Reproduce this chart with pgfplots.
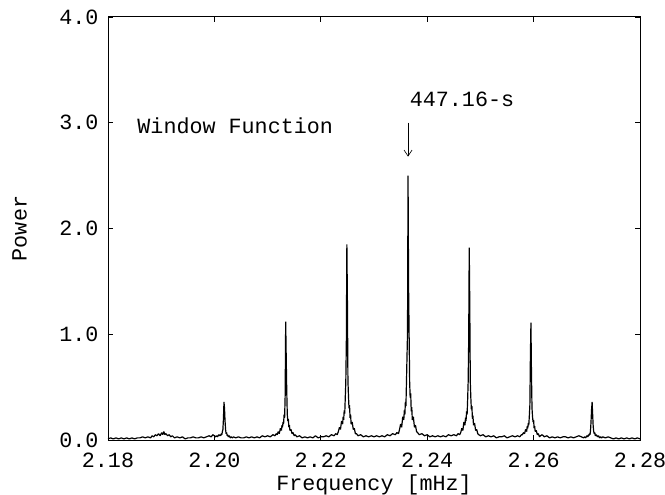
\documentclass[border=0pt]{standalone}
\usepackage{fontspec}
\setmainfont{Liberation Mono}
\usepackage{pgfplots}
\pgfplotsset{compat=1.18}
\usetikzlibrary{arrows.meta}
\begin{document}
\begin{tikzpicture}
\path[use as bounding box] (-108bp,-55bp) rectangle (557bp,440bp);
\begin{axis}[
  scale only axis, width=532bp, height=423bp,
  xmin=2.18, xmax=2.28, ymin=0, ymax=4.0,
  xtick={2.18,2.20,...,2.28}, ytick={0,1,2,3,4},
  tick align=inside, major tick length=5bp,
  axis line style={line width=1pt}, every tick/.style={black, line width=0.8pt},
  font=\fontsize{21.8}{22}\selectfont,
  /pgf/number format/assume math mode=true,
  xticklabel style={/pgf/number format/.cd, fixed, fixed zerofill, precision=2, /tikz/.cd, yshift=-9bp},
  yticklabel style={/pgf/number format/.cd, fixed, fixed zerofill, precision=1, /tikz/.cd, xshift=-6bp},
  scaled x ticks=false,
  xlabel={Frequency [mHz]}, ylabel={Power},
  xlabel style={at={(axis description cs:0.5,-0.105)}, anchor=center},
  ylabel style={at={(axis description cs:-0.166,0.5)}, anchor=center},
  clip=true,
]
\addplot[black, line width=1.2pt, sharp plot, line join=miter, miter limit=1] coordinates {
(2.1800,0.01)(2.1805,0.02)(2.1810,0.01)(2.1815,0.02)(2.1820,0.01)(2.1825,0.02)(2.1830,0.01)(2.1835,0.02)(2.1840,0.01)(2.1845,0.02)
(2.1850,0.01)(2.1855,0.02)(2.1860,0.02)(2.1865,0.03)(2.1870,0.02)(2.1875,0.03)(2.1880,0.02)(2.1883,0.04)(2.1886,0.03)(2.1889,0.05)
(2.1892,0.04)(2.1895,0.06)(2.1898,0.04)(2.1901,0.07)(2.1903,0.05)(2.1905,0.08)(2.1907,0.05)(2.1909,0.06)(2.1912,0.04)(2.1915,0.05)
(2.1918,0.03)(2.1921,0.04)(2.1925,0.02)(2.1930,0.03)(2.1935,0.02)(2.1940,0.03)(2.1945,0.01)(2.1950,0.02)(2.1955,0.02)(2.1960,0.03)
(2.1965,0.02)(2.1970,0.02)(2.1975,0.03)(2.1980,0.02)(2.1985,0.03)(2.1990,0.04)(2.1994,0.03)(2.1997,0.05)(2.2000,0.04)
(2.2002,0.03)(2.2004,0.04)(2.2006,0.03)(2.2008,0.05)(2.2010,0.04)(2.2011,0.05)(2.2012,0.04)(2.2013,0.06)(2.2014,0.05)(2.2015,0.08)
(2.2016,0.10)(2.2017,0.20)(2.2018,0.36)(2.2019,0.30)(2.2020,0.18)(2.2021,0.10)(2.2022,0.06)(2.2023,0.07)(2.2024,0.04)(2.2025,0.05)
(2.2026,0.03)(2.2028,0.04)(2.2030,0.02)(2.2032,0.03)(2.2034,0.02)
(2.2036,0.03)(2.2040,0.02)(2.2045,0.03)(2.2050,0.02)(2.2055,0.02)(2.2060,0.03)(2.2065,0.02)(2.2070,0.03)(2.2075,0.02)(2.2080,0.03)
(2.2085,0.02)(2.2090,0.04)(2.2095,0.03)(2.2100,0.04)(2.2105,0.03)(2.2110,0.05)(2.2114,0.04)(2.2116,0.06)
(2.2118,0.05)(2.2120,0.08)(2.2122,0.06)(2.2124,0.11)(2.2126,0.09)(2.2127,0.14)(2.2128,0.12)(2.2129,0.17)(2.2130,0.15)(2.2131,0.24)
(2.2132,0.21)(2.2133,0.42)(2.2134,1.12)(2.2135,0.78)(2.2136,0.46)(2.2137,0.24)(2.2138,0.18)(2.2139,0.20)(2.2140,0.12)(2.2141,0.14)
(2.2142,0.09)(2.2144,0.10)(2.2146,0.06)(2.2148,0.07)(2.2150,0.04)
(2.2152,0.05)(2.2155,0.03)(2.2160,0.04)(2.2165,0.02)(2.2170,0.03)(2.2175,0.02)(2.2180,0.03)(2.2185,0.02)(2.2190,0.04)(2.2195,0.02)
(2.2200,0.03)(2.2205,0.03)(2.2210,0.04)(2.2215,0.03)(2.2220,0.05)(2.2225,0.04)(2.2228,0.06)(2.2231,0.05)
(2.2233,0.08)(2.2235,0.12)(2.2237,0.10)(2.2239,0.18)(2.2241,0.15)(2.2242,0.22)(2.2243,0.19)(2.2244,0.28)(2.2245,0.25)(2.2246,0.40)
(2.2247,0.55)(2.2248,0.92)(2.2249,1.85)(2.2250,1.32)(2.2251,0.56)(2.2252,0.42)(2.2253,0.30)(2.2254,0.33)(2.2255,0.21)(2.2256,0.24)
(2.2257,0.15)(2.2259,0.17)(2.2261,0.10)(2.2263,0.11)(2.2265,0.06)
(2.2267,0.06)(2.2270,0.04)(2.2275,0.05)(2.2280,0.03)(2.2285,0.04)(2.2290,0.03)(2.2295,0.04)(2.2300,0.03)(2.2305,0.04)(2.2310,0.03)
(2.2315,0.04)(2.2320,0.03)(2.2325,0.05)(2.2330,0.04)(2.2335,0.06)(2.2340,0.05)(2.2343,0.07)(2.2346,0.06)
(2.2348,0.10)(2.2350,0.15)(2.2352,0.12)(2.2354,0.22)(2.2356,0.19)(2.2357,0.28)(2.2358,0.24)(2.2359,0.36)(2.2360,0.32)(2.2361,0.54)
(2.2362,0.78)(2.2363,1.01)(2.2364,2.50)(2.2365,1.45)(2.2366,1.00)(2.2367,0.55)(2.2368,0.40)(2.2369,0.44)(2.2370,0.27)(2.2371,0.31)
(2.2372,0.19)(2.2374,0.22)(2.2376,0.12)(2.2378,0.14)(2.2380,0.08)
(2.2382,0.07)(2.2385,0.05)(2.2390,0.06)(2.2395,0.04)(2.2400,0.05)(2.2405,0.03)(2.2410,0.04)(2.2415,0.03)(2.2420,0.04)(2.2425,0.03)
(2.2430,0.04)(2.2435,0.03)(2.2440,0.05)(2.2445,0.04)(2.2450,0.05)(2.2455,0.04)(2.2458,0.06)(2.2461,0.05)
(2.2463,0.07)(2.2465,0.11)(2.2467,0.09)(2.2469,0.17)(2.2471,0.14)(2.2472,0.21)(2.2473,0.18)(2.2474,0.27)(2.2475,0.24)(2.2476,0.38)
(2.2477,0.55)(2.2478,0.95)(2.2479,1.82)(2.2480,1.30)(2.2481,0.55)(2.2482,0.40)(2.2483,0.29)(2.2484,0.32)(2.2485,0.20)(2.2486,0.23)
(2.2487,0.14)(2.2489,0.16)(2.2491,0.09)(2.2493,0.10)(2.2495,0.06)
(2.2497,0.05)(2.2500,0.04)(2.2505,0.05)(2.2510,0.03)(2.2515,0.04)(2.2520,0.03)(2.2525,0.04)(2.2530,0.02)(2.2535,0.03)(2.2540,0.03)
(2.2545,0.04)(2.2550,0.02)(2.2555,0.03)(2.2560,0.04)(2.2565,0.03)(2.2570,0.04)(2.2574,0.03)(2.2577,0.05)
(2.2579,0.05)(2.2581,0.07)(2.2583,0.06)(2.2585,0.10)(2.2587,0.08)(2.2588,0.13)(2.2589,0.11)(2.2590,0.16)(2.2591,0.14)(2.2592,0.23)
(2.2593,0.33)(2.2594,0.80)(2.2595,1.11)(2.2596,0.62)(2.2597,0.30)(2.2598,0.22)(2.2599,0.17)(2.2600,0.19)(2.2601,0.11)(2.2602,0.13)
(2.2603,0.08)(2.2605,0.09)(2.2607,0.05)(2.2609,0.06)(2.2611,0.03)
(2.2613,0.04)(2.2616,0.05)(2.2620,0.03)(2.2625,0.04)(2.2630,0.02)(2.2635,0.03)(2.2640,0.02)(2.2645,0.03)(2.2650,0.02)(2.2655,0.03)
(2.2660,0.03)(2.2665,0.02)(2.2670,0.03)(2.2675,0.02)(2.2680,0.03)(2.2685,0.04)(2.2690,0.03)
(2.2694,0.02)(2.2696,0.03)(2.2698,0.02)(2.2700,0.04)(2.2702,0.03)(2.2703,0.05)(2.2704,0.04)(2.2705,0.06)(2.2706,0.05)(2.2707,0.09)
(2.2708,0.18)(2.2709,0.29)(2.2710,0.36)(2.2711,0.24)(2.2712,0.13)(2.2713,0.08)(2.2714,0.06)(2.2715,0.07)(2.2716,0.04)(2.2718,0.05)
(2.2720,0.03)(2.2722,0.04)(2.2724,0.02)(2.2726,0.03)(2.2728,0.02)
(2.2730,0.03)(2.2735,0.02)(2.2740,0.03)(2.2745,0.02)(2.2750,0.01)(2.2755,0.02)(2.2760,0.01)(2.2765,0.02)(2.2770,0.01)(2.2775,0.02)
(2.2780,0.01)(2.2785,0.02)(2.2790,0.01)(2.2795,0.02)(2.2800,0.01)
};
\node[anchor=west, inner sep=0pt] at (axis cs:2.1855,2.97) {Window Function};
\node[anchor=west, inner sep=0pt] at (axis cs:2.2367,3.22) {447.16-s};
\draw[-{Straight Barb[length=6bp,width=8bp]}, line width=0.6pt] (axis cs:2.2364,3.00) -- (axis cs:2.2364,2.68);
\end{axis}
\end{tikzpicture}
\end{document}
